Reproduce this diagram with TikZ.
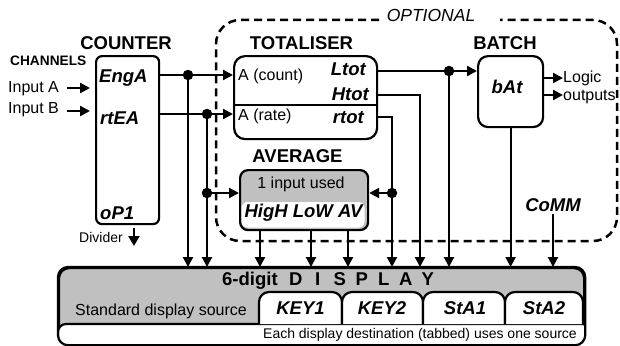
\documentclass[tikz,border=0pt]{standalone}
\usepackage{fontspec}
\setmainfont{Liberation Sans}
\usetikzlibrary{arrows.meta}
\definecolor{panelgray}{HTML}{C0C0C0}
\tikzset{
  wire/.style={line width=2.2pt},
  arr/.style={wire, -{Triangle[length=10pt,width=10pt]}},
  box/.style={draw, line width=2.2pt, inner sep=0pt, anchor=north west},
  dot/.style={circle, fill, inner sep=0pt, minimum size=10.5pt},
  head/.style={font=\fontsize{18.5}{20}\selectfont\bfseries, inner sep=0pt, anchor=base},
  sig/.style={font=\fontsize{18.5}{20}\selectfont\bfseries\itshape, inner sep=0pt},
  lbl/.style={font=\fontsize{16}{18}\selectfont, inner sep=0pt},
  small/.style={font=\fontsize{14}{16}\selectfont, inner sep=0pt},
  optline/.style={line width=2.5pt, dash pattern=on 8pt off 5pt},
}
\begin{document}
\begin{tikzpicture}[x=1pt,y=-1pt]
\useasboundingbox (0,0) rectangle (620,345);

% ---- optional section (dashed frame) ----
\node[font=\fontsize{17.5}{20}\selectfont\itshape, inner sep=0pt, anchor=base] (optional) at (431,22) {OPTIONAL};
\draw[optline, rounded corners=24pt] (379,20) -- (216,20) -- (216,241) -- (617,241) -- (617,20) -- (500,20);

% ---- counter ----
\node[head] (counterT) at (126,49) {COUNTER};
\node[box, rounded corners=6pt, minimum width=63pt, minimum height=168pt] (counter) at (95,55) {};
\node[sig, anchor=base west] (engA) at (99,82) {EngA};
\node[sig, anchor=base west] (rtEA) at (100,124) {rtEA};
\node[sig, anchor=base west] (oP1) at (100,219) {oP1};

% ---- channel inputs ----
\node[font=\fontsize{13.7}{15}\selectfont\bfseries, inner sep=0pt, anchor=base west] (channels) at (10,66) {CHANNELS};
\node[lbl, anchor=base west] (inA) at (8,92) {Input A};
\node[lbl, anchor=base west] (inB) at (8,113) {Input B};
\coordinate (inAend) at ([xshift=-5pt]counter.west |- 0,88);
\coordinate (inBend) at ([xshift=-5pt]counter.west |- 0,111);
\draw[arr] ([xshift=8pt]inA.east |- inAend) -- (inAend);
\draw[arr] ([xshift=8pt]inB.east |- inBend) -- (inBend);

% ---- divider output ----
\node[small, anchor=base west] (divider) at (79,242) {Divider};
\draw[arr, -{Triangle[length=10pt,width=11pt]}] ([xshift=11pt]divider.east |- 0,228) -- ([xshift=11pt]divider.east |- 0,246);

% ---- totaliser ----
\node[head] (totT) at (301.5,49) {TOTALISER};
\node[box, rounded corners=11pt, minimum width=143pt, minimum height=83pt] (tot) at (233,55) {};
\draw[wire] (tot.west |- 0,105) -- (tot.east |- 0,105);
\node[lbl, anchor=base west] (acount) at (238,80) {A (count)};
\node[lbl, anchor=base west] (arate) at (238,120) {A (rate)};
\node[sig, anchor=base east] (ltot) at (366,75) {Ltot};
\node[sig, anchor=base east] (htot) at (369,100) {Htot};
\node[sig, anchor=base east] (rtot) at (364,123) {rtot};

% ---- average ----
\node[head] (avgT) at (297.5,162) {AVERAGE};
\node[box, fill=panelgray, rounded corners=8pt, minimum width=128pt, minimum height=60pt] (avg) at (239,169) {};
\fill[white, rounded corners=6pt] (241.5,202) rectangle (364.5,227.5);
\node[lbl, anchor=base] (used) at (301,188) {1 input used};
\node[sig, anchor=base] (hla) at (303.5,217) {HigH LoW AV};

% ---- batch ----
\node[head] (batchT) at (505,49) {BATCH};
\node[box, rounded corners=10pt, minimum width=65pt, minimum height=71pt] (batch) at (477,55) {};
\node[sig, anchor=base] (bat) at (507,93) {bAt};
\node[lbl, anchor=base west] (logic) at (563,82) {Logic};
\node[lbl, anchor=base west] (outputs) at (563,100) {outputs};
\draw[arr] (batch.east |- 0,78) -- (logic.west |- 0,78);
\draw[arr] (batch.east |- 0,95) -- (outputs.west |- 0,95);

% ---- comms ----
\node[sig, anchor=base] (comm) at (553,211) {CoMM};

% ---- display ----
\node[box, fill=panelgray, rounded corners=10pt, minimum width=525pt, minimum height=76pt] (disp) at (58,267) {};
\begin{scope}
  \clip[rounded corners=10pt] (disp.north west) rectangle (disp.south east);
  \draw[wire, fill=white, rounded corners=8pt] (58,324) rectangle (590,350);
\end{scope}
\foreach \a/\b in {259/342, 342/423, 423/505, 505/583}
  \draw[wire, fill=white, rounded corners=10pt] (\a,324) -- (\a,292) -- (\b,292) -- (\b,324);
\draw[wire, rounded corners=10pt] (disp.north west) rectangle (disp.south east);
\node[head, anchor=base west] (dispT) at (222,285)
  {6-digit\hspace{7pt}\makebox[22pt]{D}\makebox[22pt]{I}\makebox[22pt]{S}\makebox[22pt]{P}\makebox[22pt]{L}\makebox[22pt]{A}\makebox[22pt]{Y}};
\node[lbl, anchor=base west] (stdsrc) at (75,315) {Standard display source};
\node[sig, anchor=base] (key1) at (300.5,314) {KEY1};
\node[sig, anchor=base] (key2) at (382,314) {KEY2};
\node[sig, anchor=base] (sta1) at (465,314) {StA1};
\node[sig, anchor=base] (sta2) at (544,314) {StA2};
\node[small, anchor=base east] (note) at (577,338) {Each display destination (tabbed) uses one source};

% ---- counter outputs ----
\coordinate (jA) at (188,75);
\coordinate (jB) at (207,114);
\coordinate (jB2) at (207,193);
\draw[arr] (counter.east |- jA) -- (tot.west |- jA);
\draw[arr] (counter.east |- jB) -- (tot.west |- jB);
\draw[arr] (jA) -- (jA |- disp.north);
\draw[arr] (jB) -- (jB |- disp.north);
\draw[arr] (jB2) -- (avg.west |- jB2);

% ---- totaliser outputs ----
\coordinate (jL) at (449,71);
\coordinate (hT) at (420,95);
\coordinate (rT) at (392,117);
\coordinate (jR) at (392,193);
\draw[arr] (tot.east |- jL) -- (batch.west |- jL);
\draw[arr] (jL) -- (jL |- disp.north);
\draw[arr] (tot.east |- hT) -- (hT) -- (hT |- disp.north);
\draw[arr] (tot.east |- rT) -- (rT) -- (rT |- disp.north);
\draw[arr] (jR) -- (avg.east |- jR);

% ---- average outputs ----
\coordinate (o1) at (260,0);
\coordinate (o2) at (311,0);
\coordinate (o3) at (348,0);
\foreach \o in {o1,o2,o3}
  \draw[arr] (\o |- avg.south) -- (\o |- disp.north);

% ---- batch and comms outputs ----
\draw[arr] (batch.south) -- (batch.south |- disp.north);
\draw[arr] ([yshift=-3pt]comm.south) -- (comm.south |- disp.north);

% ---- junction dots ----
\foreach \p in {jA,jB,jB2,jL,jR}
  \node[dot] (dot-\p) at (\p) {};
\end{tikzpicture}
\end{document}
